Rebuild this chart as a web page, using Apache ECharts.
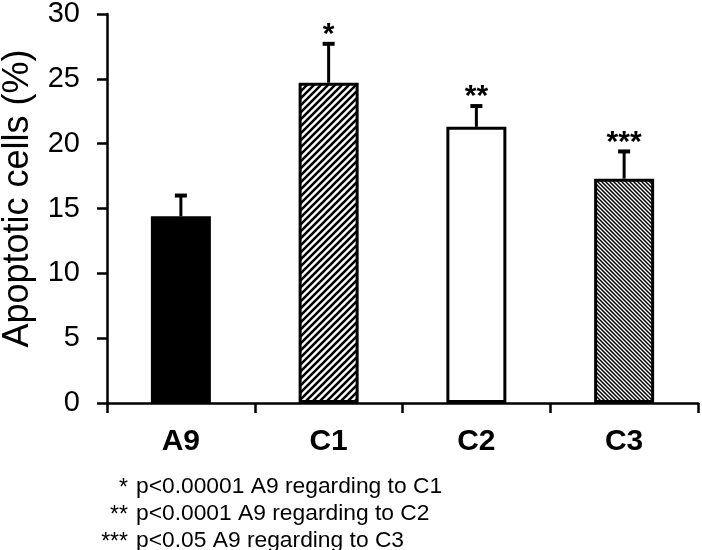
<!DOCTYPE html>
<html>
<head>
<meta charset="utf-8">
<script src="https://cdn.jsdelivr.net/npm/echarts@6/dist/echarts.min.js"></script>
<style>
html,body{margin:0;padding:0;background:#fff;}
#chart{width:702px;height:550px;}
</style>
</head>
<body>
<div id="chart"></div>
<script>
// ---- data ----
var categories = ['A9', 'C1', 'C2', 'C3'];
var values = [14.4, 24.7, 21.3, 17.3];
var errors = [1.6, 3.0, 1.6, 2.1];
var stars = ['', '*', '**', '***'];
var yTicks = [0, 5, 10, 15, 20, 25, 30];
var footStars = ['*', '**', '***'];
var footTexts = ['p<0.00001 A9 regarding to C1', 'p<0.0001 A9 regarding to C2', 'p<0.05 A9 regarding to C3'];

var FONT = '"Liberation Sans", Arial, Helvetica, sans-serif';

function hatch(size, lw, dir) {
  var c = document.createElement('canvas');
  c.width = size; c.height = size;
  var ctx = c.getContext('2d');
  ctx.fillStyle = '#fff';
  ctx.fillRect(0, 0, size, size);
  ctx.strokeStyle = '#000';
  ctx.lineWidth = lw;
  ctx.beginPath();
  if (dir === '/') {
    ctx.moveTo(0, size); ctx.lineTo(size, 0);
    ctx.moveTo(-size / 2, size / 2); ctx.lineTo(size / 2, -size / 2);
    ctx.moveTo(size / 2, size * 1.5); ctx.lineTo(size * 1.5, size / 2);
  } else {
    ctx.moveTo(0, 0); ctx.lineTo(size, size);
    ctx.moveTo(-size / 2, size / 2); ctx.lineTo(size / 2, size * 1.5);
    ctx.moveTo(size / 2, -size / 2); ctx.lineTo(size * 1.5, size / 2);
  }
  ctx.stroke();
  return c;
}

var fills = [
  '#000',
  { image: hatch(7, 2.6, '/'), repeat: 'repeat' },
  '#fff',
  { image: hatch(4, 1.5, '\\'), repeat: 'repeat' }
];

var barData = values.map(function (v, i) {
  return { value: v, itemStyle: { color: fills[i] } };
});
var errData = values.map(function (v, i) { return [i, v, errors[i], stars[i]]; });

var graphics = [];
var footY = [487, 514, 541];
footTexts.forEach(function (t, i) {
  graphics.push({
    type: 'text', x: 128, y: footY[i] + 2,
    style: { text: footStars[i], font: '23px ' + FONT, fill: '#000', textAlign: 'right', textVerticalAlign: 'middle' }
  });
  graphics.push({
    type: 'text', x: 136, y: footY[i],
    style: { text: t, font: '22.8px ' + FONT, fill: '#000', textAlign: 'left', textVerticalAlign: 'middle' }
  });
});

var chart = echarts.init(document.getElementById('chart'), null, { renderer: 'canvas' });
chart.setOption({
  animation: false,
  backgroundColor: '#fff',
  grid: { left: 107, right: 4, top: 14, bottom: 147, containLabel: false, outerBoundsMode: 'none' },
  xAxis: {
    type: 'category',
    data: categories,
    axisLine: { lineStyle: { color: '#000', width: 2.5 } },
    axisTick: { show: true, length: 10, lineStyle: { color: '#000', width: 2.5 } },
    axisLabel: { color: '#000', fontSize: 30, fontWeight: 'bold', fontFamily: FONT, margin: 24 }
  },
  yAxis: {
    type: 'value',
    min: yTicks[0], max: yTicks[yTicks.length - 1], interval: 5,
    name: 'Apoptotic cells (%)',
    nameLocation: 'middle',
    nameGap: 71,
    nameTextStyle: { color: '#000', fontSize: 36, fontFamily: FONT, padding: [0, 0, 0, 20] },
    axisLine: { show: true, lineStyle: { color: '#000', width: 2.5 } },
    axisTick: { show: true, length: 10, lineStyle: { color: '#000', width: 2.5 } },
    axisLabel: { color: '#000', fontSize: 29, fontFamily: FONT, margin: 27 },
    splitLine: { show: false }
  },
  series: [
    {
      type: 'bar',
      data: barData,
      barWidth: 60,
      itemStyle: { borderColor: '#000', borderWidth: 3 }
    },
    {
      type: 'custom',
      data: errData,
      z: 3,
      renderItem: function (params, api) {
        var x = api.value(0), v = api.value(1), e = api.value(2);
        var s = errData[params.dataIndex][3];
        var p0 = api.coord([x, v]);
        var p1 = api.coord([x, v + e]);
        var children = [
          { type: 'line', shape: { x1: p0[0], y1: p0[1], x2: p1[0], y2: p1[1] }, style: { stroke: '#000', lineWidth: 3 } },
          { type: 'line', shape: { x1: p1[0] - 6, y1: p1[1], x2: p1[0] + 6, y2: p1[1] }, style: { stroke: '#000', lineWidth: 4 } }
        ];
        if (s) {
          children.push({ type: 'text', x: p1[0], y: p1[1] - 24, style: { text: s, font: 'bold 30px ' + FONT, fill: '#000', textAlign: 'center', textVerticalAlign: 'top' } });
        }
        return { type: 'group', children: children };
      }
    }
  ],
  graphic: graphics
});
</script>
</body>
</html>
